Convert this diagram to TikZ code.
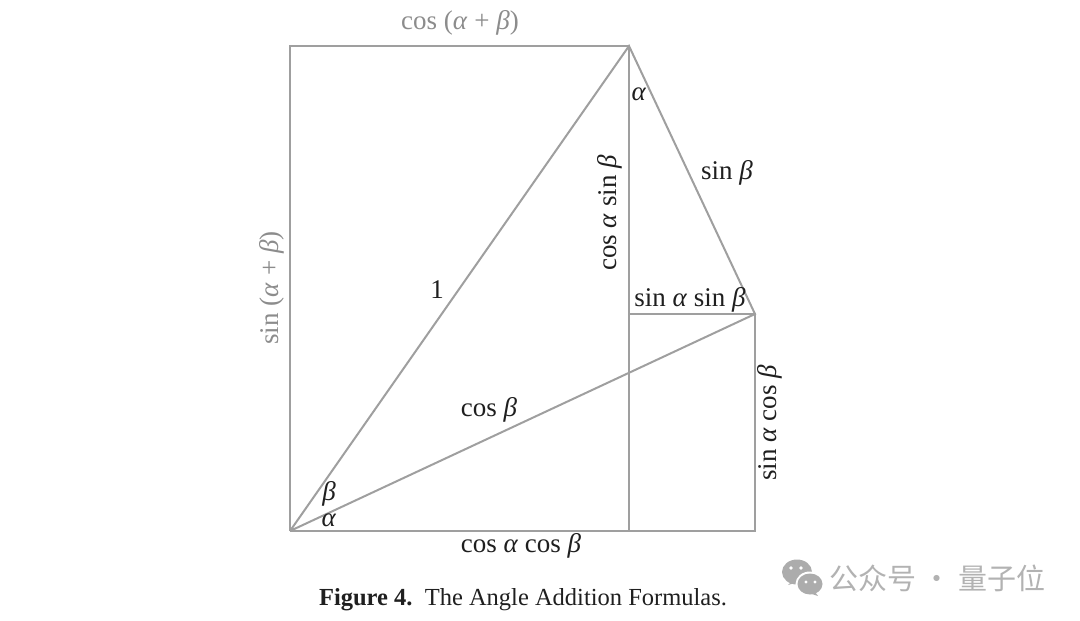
\documentclass[tikz,border=0pt]{standalone}
\usepackage{fontspec}
\setmainfont{Liberation Serif}
\newfontfamily\cjk{Noto Sans CJK SC}
\usepackage{tikz}

\newcommand{\al}{\textit{α}}
\newcommand{\be}{\textit{β}}

\begin{document}
\begin{tikzpicture}[x=1pt, y=-1pt,
    edge/.style = {draw=gray!75, line width=2pt},
    lbl/.style = {text=black!88, font=\fontsize{27}{31}\selectfont, inner sep=0pt},
    pale/.style = {lbl, text=gray!90}]
        \useasboundingbox (0,0) rectangle (1080,621);
        % corners
        \coordinate (O) at (290,531);
        \coordinate (TL) at (290,46);
        \coordinate (P) at (629,46);
        \coordinate (Q) at (755,314);
        \coordinate (M) at (629,314);
        \coordinate (B) at (629,531);
        \coordinate (BR) at (755,531);
        \draw[edge] (O) -- (TL) -- (P);
        \draw[edge] (O) -- (BR) -- (Q);
        \draw[edge] (O) -- (P) -- (Q) -- (O);
        \draw[edge] (P) -- (B);
        \draw[edge] (M) -- (Q);
        % labels
        \node[pale] (top) at (460,23) {cos (\al\ + \be)};
        \node[pale, rotate=90] (left) at (272,288) {sin (\al\ + \be)};
        \node[lbl] (one) at (437,290) {1};
        \node[lbl] (aP) at (639,94) {\al};
        \node[lbl, rotate=90] (casb) at (610,213) {cos \al\ sin \be};
        \node[lbl] (sb) at (727,173) {sin \be};
        \node[lbl] (sasb) at (690,300) {sin \al\ sin \be};
        \node[lbl] (cb) at (489,410) {cos \be};
        \node[lbl, rotate=90] (sacb) at (770,423) {sin \al\ cos \be};
        \node[lbl] (bO) at (329,494) {\be};
        \node[lbl] (aO) at (329,520) {\al};
        \node[lbl] (cacb) at (521,546) {cos \al\ cos \be};
        \node[lbl, font=\fontsize{24.5}{28}\selectfont] (cap) at (523,600) {\textbf{Figure 4.}\ \ The Angle Addition Formulas.};
        % watermark
        \fill[gray!65] (797,572) ellipse (15 and 12.5);
        \fill[gray!65] (788,585) -- (792,581) -- (795,583) -- cycle;
        \fill[white] (810,584) ellipse (14.5 and 12.5);
        \fill[gray!65] (810,584) ellipse (12.5 and 10.5);
        \fill[gray!65] (818,596) -- (815,592) -- (812,594) -- cycle;
        \fill[white] (791,568) circle (1.8) (801,568) circle (1.8) (806,582) circle (1.6) (815,582) circle (1.6);
        \node[text=gray!60, font=\cjk\fontsize{29}{32}\selectfont, anchor=west, inner sep=0pt] (mark) at (829,578) {公众号 · 量子位};
    \end{tikzpicture}
\end{document}
